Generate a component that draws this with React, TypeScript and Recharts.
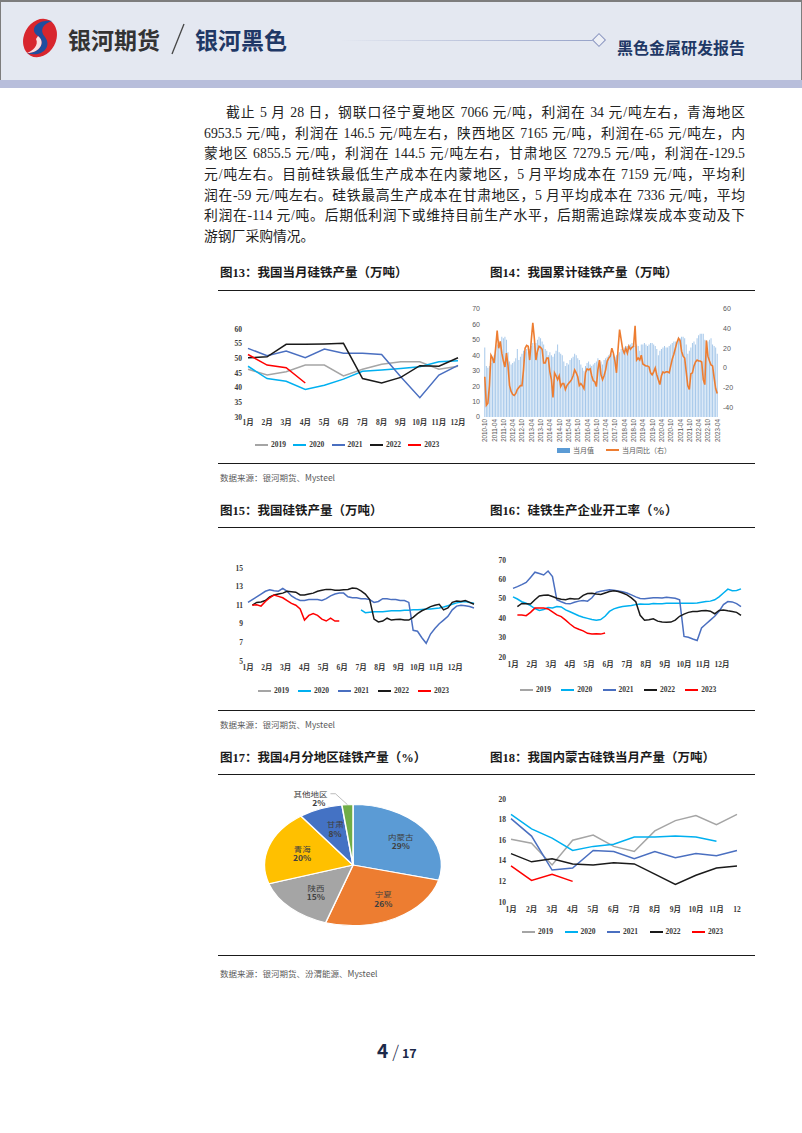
import React from 'react';
import { LineChart, Line, ComposedChart, Bar, XAxis, YAxis, PieChart, Pie, Cell } from 'recharts';

const SERIF = '"Liberation Serif", "Times New Roman", "Noto Sans CJK SC", serif';
const SANS = '"Liberation Sans", Arial, "Noto Sans CJK SC", sans-serif';
const CJK = '"Noto Sans CJK SC", "Liberation Sans", sans-serif';
const NAVY = '#1f3866';

const years = ['2019', '2020', '2021', '2022', '2023'];
const yearColors: Record<string, string> = {
  '2019': '#a5a5a5',
  '2020': '#00b0f0',
  '2021': '#4a6fc0',
  '2022': '#1a1a1a',
  '2023': '#ff0000',
};

const monthLabels = ['1月', '2月', '3月', '4月', '5月', '6月', '7月', '8月', '9月', '10月', '11月', '12月'];
const monthLabels18 = ['1月', '2月', '3月', '4月', '5月', '6月', '7月', '8月', '9月', '10月', '11月', '12'];

// 图13 当月硅铁产量
const fig13_2019 = [46.3, 44.3, 45.4, 47.7, 47.7, 44.0, 46.3, 48.0, 48.8, 48.8, 46.3, 47.3];
const fig13_2020 = [47.3, 43.1, 42.2, 39.4, 40.8, 42.9, 45.6, 46.0, 46.5, 47.1, 48.8, 49.2];
const fig13_2021 = [53.4, 50.9, 52.5, 50.2, 53.2, 51.7, 51.7, 51.3, 43.7, 36.6, 44.3, 47.6];
const fig13_2022 = [50.2, 50.5, 54.8, 54.8, 54.9, 55.1, 43.1, 41.6, 43.5, 47.5, 47.3, 50.2];
const fig13_2023 = [51.3, 47.7, 46.8, 41.6];

// 图14 累计硅铁产量: 当月值 / 当月同比, 2010-10 .. 2023-04
const fig14Value = [
  45, 33, 32,
  33, 35, 38, 40, 45, 47, 50, 49, 52, 51, 52, 50,
  42, 36, 34, 35, 36, 38, 44, 37, 39, 41, 43, 42,
  44, 42, 44, 46, 48, 46, 48, 50, 52, 51, 49, 47,
  44, 43, 40, 42, 40, 39, 41, 43, 47, 42, 41, 40,
  36, 33, 35, 34, 37, 38, 39, 41, 40, 38, 37, 34,
  32, 30, 33, 35, 36, 34, 33, 34, 35, 36, 38, 37,
  36, 34, 37, 38, 39, 40, 41, 41, 40, 39, 40, 41,
  42, 44, 43, 45, 46, 46, 47, 47, 48, 47, 46, 47,
  46, 43, 47, 47, 48, 47, 46, 47, 48, 48, 47, 46,
  44, 40, 43, 44, 45, 46, 45, 45, 46, 47, 48, 49,
  49, 48, 52, 51, 52, 52, 51, 47, 41, 43, 45, 48,
  49, 47, 51, 53, 54, 54, 54, 50, 45, 49, 50, 51,
  47, 46, 45, 41,
];
const fig14Yoy = [
  -9, -38, -36,
  -18, 13, 10, 5, 20, 38, 20, 27, 15, 7, 1, 15,
  2, -18, -24, -27, -28, -26, -22, -20, -18, -18, -2, 20,
  23, 22, 8, 28, 46, 30, 8, 17, 22, 21, 19, 5,
  5, 10, 10, -4, -12, -30, -5, -8, -12, -8, -19, -16,
  -16, -22, -18, -16, -14, -12, -8, -2, -5, -9, -18, -16,
  -18, -21, -5, -1, -2, -1, -8, -13, -14, -19, -2, 8,
  -7, -12, -8, -2, 7, 10, 12, 20, 15, 7, -5, 19,
  39, 29, 19, 15, 20, 15, 22, 19, 21, 22, 43, 8,
  10, 8, 13, 4, 3, 2, 2, 1, -5, -7, -4, 0,
  -7, -12, -17, -8, -4, -5, -4, -4, -5, 2, 9, 14,
  20, 26, 30, 28, 17, 12, 10, -4, -18, -22, -6, -5,
  2, 6, 8, 7, 7, 6, -12, -17, 28, 12, 7, 3,
  2, -10, -21, -26,
];
const fig14Months: string[] = [];
for (let i = 0; i < fig14Value.length; i++) {
  const t = 2010 * 12 + 9 + i;
  fig14Months.push(`${Math.floor(t / 12)}-${String((t % 12) + 1).padStart(2, '0')}`);
}

// 图15 硅铁周产量 (week 0..52)
const fig15_2019: (number | null)[] = [];
const fig15_2020 = [
  null, null, null, null, null, null, null, null, null, null, null, null, null,
  null, null, null, null, null, null, null, null, null, null, null, null, null,
  10.5, 10.2, 10.25, 10.3, 10.3, 10.3, 10.35, 10.4, 10.4, 10.4, 10.45, 10.45, 10.5,
  10.5, 10.55, 10.6, 10.6, 10.65, 10.7, 10.8, 10.95, 11.1, 11.25, 11.35, 11.4, 11.3, 11.2,
];
const fig15_2021 = [
  11.3, 11.6, 11.9, 12.2, 12.5, 12.65, 12.55, 12.5, 12.8, 12.5, 12.0, 11.7, 11.5,
  11.5, 11.6, 11.6, 11.6, 11.5, 11.7, 12.0, 12.2, 12.3, 12.3, 11.9, 11.8, 11.8,
  11.7, 11.7, 11.6, 11.3, 11.4, 11.7, 11.7, 11.6, 11.6, 11.5, 11.5, 11.3, 8.3,
  8.2, 7.5, 6.9, 7.9, 8.5, 9.0, 9.4, 9.8, 10.5, 10.9, 11.0, 10.95, 10.85, 10.7,
];
const fig15_2022 = [
  null, 11.0, 11.3, 11.35, 11.5, 11.9, 12.1, 12.2, 12.3, 12.5, 12.45, 12.4, 12.1,
  12.1, 12.2, 12.3, 12.5, 12.6, 12.7, 12.7, 12.6, 12.6, 12.65, 12.7, 12.85, 12.8,
  12.55, 12.2, 11.6, 9.5, 9.2, 9.3, 9.6, 9.4, 9.45, 9.5, 9.4, 9.4, 9.7,
  10.1, 10.4, 10.6, 10.85, 11.0, 11.1, 10.5, 10.7, 11.3, 11.45, 11.4, 11.5, 11.3, 11.1,
];
const fig15_2023 = [
  null, 11.0, 11.05, 10.9, 11.4, 11.8, 12.1, 11.95, 11.8, 11.5, 11.2, 11.0, 10.6,
  9.4, 9.9, 10.1, 9.9, 9.5, 9.3, 9.6, 9.3, 9.3,
];

// 图16 硅铁企业开工率 (week 0..52)
const fig16_2019: (number | null)[] = [];
const fig16_2020 = [
  51, 49.9, 48.5, 47.7, 46.5, 45, 44, 44.5, 45.5, 45.3, 46, 45.8, 44.3,
  43.3, 42.3, 41.3, 40.5, 39.9, 39.3, 39, 39.3, 41, 43.5, 44.8, 45.5, 46,
  46.3, 46.6, 47, 47.3, 47.2, 47.2, 47.6, 47.4, 47.5, 47.7, 47.7, 47.7, 47.7,
  47.7, 47.7, 47.7, 47.8, 48.2, 48.6, 48.8, 49.5, 51, 53, 55, 54.2, 54.3, 55.1,
];
const fig16_2021 = [
  55.4, 56.3, 57.3, 58.4, 61, 63.7, 63, 62.3, 64.3, 61.5, 49.5, 48.5, 47.6,
  47.4, 48.2, 48.8, 49.1, 48.8, 50.5, 53.3, 53.9, 54.3, 54.6, 54.4, 54, 53.6,
  53, 52, 51, 50.2, 50, 50.3, 50.6, 50.6, 50.4, 50.8, 50.6, 50.3, 49.5,
  30.6, 30.2, 29.3, 28.5, 35, 37, 39, 41, 43.5, 47, 48.6, 48.4, 47.5, 46,
];
const fig16_2022 = [
  null, 46, 47.6, 47.5, 47.3, 49.5, 51.5, 51.8, 52, 51.2, 50.3, 49.8, 49.5,
  50.1, 49.9, 50, 51.8, 52.7, 52.9, 52.5, 52.2, 53, 53.8, 54.1, 53.8, 53,
  52, 50.5, 48.5, 41.5, 39, 39.2, 39.7, 38.5, 38, 37.9, 38, 39, 41,
  42.1, 43, 43.5, 43.5, 43.8, 44, 43.6, 42.3, 44, 44.2, 43.8, 43.5, 43, 41.4,
];
const fig16_2023 = [
  null, 41.7, 41.7, 41.3, 43, 45.2, 45.2, 45.2, 44.8, 43.3, 41.7, 40.8, 39,
  37, 35.3, 34.3, 33.5, 32.2, 31.8, 32, 31.8, 32.4,
];

// 图17 4月分地区硅铁产量
const pieNames = ['内蒙古', '宁夏', '陕西', '青海', '甘肃', '其他地区'];
const pieValues = [29, 26, 15, 20, 8, 2];
const pieColors = ['#5b9bd5', '#ed7d31', '#a5a5a5', '#ffc000', '#4472c4', '#70ad47'];

// 图18 内蒙古硅铁当月产量
const fig18_2019 = [16.1, 15.7, 13.6, 16.0, 16.5, 15.4, 14.9, 16.9, 17.9, 18.4, 17.5, 18.5];
const fig18_2020 = [18.5, 17.1, 16.2, 15.0, 15.4, 15.6, 16.3, 16.3, 16.4, 16.3, 15.9];
const fig18_2021 = [18.1, 16.4, 13.1, 13.3, 15.0, 14.9, 14.2, 14.9, 14.3, 14.7, 14.5, 15.0];
const fig18_2022 = [14.7, 13.9, 14.2, 13.7, 13.6, 13.8, 13.7, 12.7, 11.7, 12.6, 13.3, 13.5];
const fig18_2023 = [13.5, 12.1, 12.7, 12.0];

const byYear = (labels: (string | number)[], key: string, series: Record<string, (number | null)[]>) =>
  labels.map((l, i) => {
    const row: Record<string, any> = { [key]: l };
    years.forEach((y) => {
      const v = series[y] ? series[y][i] : undefined;
      row[y] = v === undefined ? null : v;
    });
    return row;
  });

const weeks = fig16_2020.map((_, i) => i);
const monthTicks = monthLabels.map((_, i) => (i * 52) / 12);

const fig13Rows = byYear(monthLabels, 'm', { '2019': fig13_2019, '2020': fig13_2020, '2021': fig13_2021, '2022': fig13_2022, '2023': fig13_2023 });
const fig14Rows = fig14Months.map((month, i) => ({ month, value: fig14Value[i], yoy: fig14Yoy[i] }));
const fig15Rows = byYear(weeks, 'w', { '2019': fig15_2019, '2020': fig15_2020, '2021': fig15_2021, '2022': fig15_2022, '2023': fig15_2023 });
const fig16Rows = byYear(weeks, 'w', { '2019': fig16_2019, '2020': fig16_2020, '2021': fig16_2021, '2022': fig16_2022, '2023': fig16_2023 });
const fig18Rows = byYear(monthLabels18, 'm', { '2019': fig18_2019, '2020': fig18_2020, '2021': fig18_2021, '2022': fig18_2022, '2023': fig18_2023 });
const pieData = pieNames.map((name, i) => ({ name, value: pieValues[i] }));

const paragraph = [
  '截止 5 月 28 日，钢联口径宁夏地区 7066 元/吨，利润在 34 元/吨左右，青海地区',
  '6953.5 元/吨，利润在 146.5 元/吨左右，陕西地区 7165 元/吨，利润在-65 元/吨左，内',
  '蒙地区 6855.5 元/吨，利润在 144.5 元/吨左右，甘肃地区 7279.5 元/吨，利润在-129.5',
  '元/吨左右。目前硅铁最低生产成本在内蒙地区，5 月平均成本在 7159 元/吨，平均利',
  '润在-59 元/吨左右。硅铁最高生产成本在甘肃地区，5 月平均成本在 7336 元/吨，平均',
  '利润在-114 元/吨。后期低利润下或维持目前生产水平，后期需追踪煤炭成本变动及下',
  '游钢厂采购情况。',
];

const serifTick = { fontSize: 7.5, fill: '#3a3a3a', fontFamily: SERIF, fontWeight: 700 };
const sansTick = { fontSize: 7, fill: '#595959', fontFamily: SANS };

const yearLines = () =>
  years.map((y) => (
    <Line
      key={y}
      type="linear"
      dataKey={y}
      stroke={yearColors[y]}
      strokeWidth={1.5}
      dot={false}
      isAnimationActive={false}
    />
  ));

const YearLegend = ({ left, top, gap }: { left: number; top: number; gap: number }) => (
  <div style={{ position: 'absolute', left, top: top - 5, height: 10 }}>
    {years.map((y, i) => (
      <div key={y} style={{ position: 'absolute', left: i * gap, top: 0, height: 10, display: 'flex', alignItems: 'center', whiteSpace: 'nowrap' }}>
        <span style={{ display: 'inline-block', width: 13, height: 1.6, background: yearColors[y] }} />
        <span style={{ marginLeft: 3, fontFamily: SERIF, fontWeight: 700, fontSize: 7.5, color: '#3a3a3a', lineHeight: '10px' }}>{y}</span>
      </div>
    ))}
  </div>
);

const RotTick = (props: any) => {
  const { x, y, payload } = props;
  return (
    <text x={x} y={y} transform={`rotate(-90 ${x} ${y})`} textAnchor="end" dominantBaseline="central" fontSize={6.3} fill="#595959" fontFamily={SANS}>
      {payload.value}
    </text>
  );
};

const RADIAN = Math.PI / 180;
const PIE_SQUASH = 0.684;
const PIE_TEXT = 1.25;
const PIE_SIZE = 240;

const PieLabel = (props: any) => {
  const { cx, cy, midAngle, outerRadius, name, value } = props;
  const cos = Math.cos(-midAngle * RADIAN);
  const sin = Math.sin(-midAngle * RADIAN);
  if (name === '其他地区') {
    const r = outerRadius + 16;
    const ax = cx + r * cos;
    const ay = cy + r * sin;
    const ex = cx + outerRadius * cos;
    const ey = cy + outerRadius * sin;
    return (
      <g>
        <polyline points={`${ax - 16},${ay} ${ax - 11},${ay} ${ex},${ey}`} fill="none" stroke="#8c8c8c" strokeWidth={0.7} />
        <text transform={`translate(${ax - 19} ${ay}) scale(1 ${PIE_TEXT})`} textAnchor="end" dominantBaseline="central" fontSize={8.5} fill="#404040" fontFamily={CJK}>{name}</text>
        <text transform={`translate(${ax - 21} ${ay + 13}) scale(1 ${PIE_TEXT})`} textAnchor="end" dominantBaseline="central" fontSize={8.5} fontWeight={700} fill="#404040" fontFamily={CJK}>{`${value}%`}</text>
      </g>
    );
  }
  const r = outerRadius * 0.64;
  const x = cx + r * cos + 3;
  const y = cy + r * sin;
  return (
    <g>
      <text transform={`translate(${x} ${y - 7}) scale(1 ${PIE_TEXT})`} textAnchor="middle" dominantBaseline="central" fontSize={8.5} fill="#404040" fontFamily={CJK}>{name}</text>
      <text transform={`translate(${x} ${y + 7}) scale(1 ${PIE_TEXT})`} textAnchor="middle" dominantBaseline="central" fontSize={8.5} fontWeight={700} fill="#404040" fontFamily={CJK}>{`${value}%`}</text>
    </g>
  );
};

const Section = ({ titleL, titleR, titleY, topLine, bottomLine, sourceY, source }: any) => (
  <>
    <div style={{ position: 'absolute', left: 220, top: titleY - 9, fontFamily: SERIF, fontWeight: 700, fontSize: 12.5, lineHeight: '18px', color: '#1a1a1a', whiteSpace: 'nowrap' }}>{titleL}</div>
    <div style={{ position: 'absolute', left: 490, top: titleY - 9, fontFamily: SERIF, fontWeight: 700, fontSize: 12.5, lineHeight: '18px', color: '#1a1a1a', whiteSpace: 'nowrap' }}>{titleR}</div>
    <div style={{ position: 'absolute', left: 218, top: topLine, width: 537, height: 1.4, background: '#1a1a1a' }} />
    <div style={{ position: 'absolute', left: 218, top: bottomLine, width: 537, height: 1.4, background: '#1a1a1a' }} />
    <div style={{ position: 'absolute', left: 220, top: sourceY - 6, fontFamily: CJK, fontSize: 8.5, lineHeight: '12px', color: '#595959', whiteSpace: 'nowrap' }}>{source}</div>
  </>
);

const Header = () => (
  <>
    <div style={{ position: 'absolute', left: 0, top: 0, width: 802, height: 80, background: '#e4e8f1', borderTop: '2px solid #7d7d7d', borderLeft: '1px solid #7d7d7d', borderRight: '1px solid #7d7d7d', boxSizing: 'border-box' }} />
    <div style={{ position: 'absolute', left: 0, top: 80, width: 802, height: 8, background: '#b8bedb' }} />
    <svg width={42} height={44} viewBox="0 0 42 44" style={{ position: 'absolute', left: 19, top: 16 }}>
      <ellipse cx={21} cy={22} rx={16} ry={20} transform="rotate(28 21 22)" fill="#d8262e" />
      <path d="M33 5 C 19 3, 9 13, 19 20 C 27 26, 21 37, 8 37 C 21 42, 34 32, 26 21 C 20 14, 24 8, 33 5 Z" fill="#1f4e9e" />
      <path d="M19 20 C 27 26, 21 37, 8 37 C 14 35, 20 29, 17 23 Z" fill="#ffffff" opacity={0.85} />
    </svg>
    <div style={{ position: 'absolute', left: 68, top: 24, fontFamily: CJK, fontWeight: 700, fontSize: 23, lineHeight: '30px', color: '#333333', whiteSpace: 'nowrap' }}>银河期货</div>
    <svg width={20} height={34} style={{ position: 'absolute', left: 168, top: 22 }}>
      <line x1={16} y1={2} x2={4} y2={32} stroke="#444" strokeWidth={1.3} />
    </svg>
    <div style={{ position: 'absolute', left: 195, top: 24, fontFamily: CJK, fontWeight: 700, fontSize: 23, lineHeight: '30px', color: NAVY, whiteSpace: 'nowrap' }}>银河黑色</div>
    <div style={{ position: 'absolute', left: 340, top: 39.5, width: 253, height: 1.5, background: 'linear-gradient(to right, rgba(160,170,205,0), #97a3c9)' }} />
    <div style={{ position: 'absolute', left: 594, top: 35, width: 8, height: 8, border: '1px solid #8793bf', background: '#eef0f6', transform: 'rotate(45deg)' }} />
    <div style={{ position: 'absolute', left: 617, top: 36, fontFamily: CJK, fontWeight: 700, fontSize: 16, lineHeight: '22px', color: NAVY, whiteSpace: 'nowrap' }}>黑色金属研发报告</div>
  </>
);

export default function App() {
  return (
    <div style={{ position: 'absolute', left: 0, top: 0, width: 802, height: 1133, background: '#ffffff', overflow: 'hidden' }}>
      <Header />

      <div style={{ position: 'absolute', left: 204, top: 103, width: 541, fontFamily: SERIF, fontSize: 13.8, color: '#222' }}>
        {paragraph.map((line, i) => (
          <div
            key={i}
            style={{
              height: 20.7,
              lineHeight: '20.7px',
              paddingLeft: i === 0 ? 22 : 0,
              textAlign: 'justify',
              textAlignLast: i === paragraph.length - 1 ? 'left' : 'justify',
            } as React.CSSProperties}
          >
            {line}
          </div>
        ))}
      </div>

      <Section titleL="图13：我国当月硅铁产量（万吨）" titleR="图14：我国累计硅铁产量（万吨）" titleY={273} topLine={290} bottomLine={463} sourceY={477} source="数据来源：银河期货、Mysteel" />
      <Section titleL="图15：我国硅铁产量（万吨）" titleR="图16：硅铁生产企业开工率（%）" titleY={511} topLine={527} bottomLine={710} sourceY={724} source="数据来源：银河期货、Mysteel" />
      <Section titleL="图17：我国4月分地区硅铁产量（%）" titleR="图18：我国内蒙古硅铁当月产量（万吨）" titleY={758} topLine={774} bottomLine={955} sourceY={973} source="数据来源：银河期货、汾渭能源、Mysteel" />

      {/* 图13 */}
      <div style={{ position: 'absolute', left: 218, top: 319 }}>
        <LineChart width={252} height={114} data={fig13Rows} margin={{ top: 10, right: 12, bottom: 0, left: 0 }}>
          <XAxis dataKey="m" interval={0} axisLine={false} tickLine={false} tickSize={0} tickMargin={3} height={16} tick={serifTick} />
          <YAxis domain={[30, 60]} ticks={[30, 35, 40, 45, 50, 55, 60]} axisLine={false} tickLine={false} tickSize={0} tickMargin={6} width={30} tick={serifTick} />
          {yearLines()}
        </LineChart>
      </div>
      <YearLegend left={255} top={445} gap={38.3} />

      {/* 图14 */}
      <div style={{ position: 'absolute', left: 460, top: 299 }}>
        <ComposedChart width={282} height={143} data={fig14Rows} margin={{ top: 10, right: 0, bottom: 0, left: 0 }} barCategoryGap="18%">
          <XAxis dataKey="month" interval={5} axisLine={false} tickLine={false} tickSize={0} tickMargin={2} height={25} tick={RotTick} />
          <YAxis yAxisId="l" domain={[0, 70]} ticks={[0, 10, 20, 30, 40, 50, 60, 70]} axisLine={false} tickLine={false} tickSize={0} tickMargin={4} width={24} tick={sansTick} />
          <YAxis yAxisId="r" orientation="right" domain={[-50, 60]} ticks={[-50, -40, -30, -20, -10, 0, 10, 20, 30, 40, 50, 60]} axisLine={false} tickLine={false} tickSize={0} tickMargin={5} width={24} tick={sansTick} />
          <Bar yAxisId="l" dataKey="value" fill="#a6c8ea" isAnimationActive={false} />
          <Line yAxisId="r" type="linear" dataKey="yoy" stroke="#ed7d31" strokeWidth={1.6} dot={false} isAnimationActive={false} />
        </ComposedChart>
      </div>
      <div style={{ position: 'absolute', left: 557, top: 445, height: 10, display: 'flex', alignItems: 'center', whiteSpace: 'nowrap', fontFamily: CJK, fontSize: 7, color: '#595959' }}>
        <span style={{ display: 'inline-block', width: 13, height: 5, background: '#5b9bd5' }} />
        <span style={{ marginLeft: 3 }}>当月值</span>
        <span style={{ display: 'inline-block', width: 13, height: 2, background: '#ed7d31', marginLeft: 12 }} />
        <span style={{ marginLeft: 3 }}>当月同比（右）</span>
      </div>

      {/* 图15 */}
      <div style={{ position: 'absolute', left: 218, top: 558 }}>
        <LineChart width={264} height={119} data={fig15Rows} margin={{ top: 10, right: 8, bottom: 0, left: 0 }}>
          <XAxis dataKey="w" type="number" domain={[0, 52]} ticks={monthTicks} interval={0} tickFormatter={(v: number) => monthLabels[monthTicks.indexOf(v)]} axisLine={false} tickLine={false} tickSize={0} tickMargin={4} height={16} tick={serifTick} />
          <YAxis domain={[5, 15]} ticks={[5, 7, 9, 11, 13, 15]} axisLine={false} tickLine={false} tickSize={0} tickMargin={5} width={30} tick={serifTick} />
          {yearLines()}
        </LineChart>
      </div>
      <YearLegend left={258} top={691} gap={40} />

      {/* 图16 */}
      <div style={{ position: 'absolute', left: 485, top: 550 }}>
        <LineChart width={264} height={123} data={fig16Rows} margin={{ top: 10, right: 8, bottom: 0, left: 0 }}>
          <XAxis dataKey="w" type="number" domain={[0, 52]} ticks={monthTicks} interval={0} tickFormatter={(v: number) => monthLabels[monthTicks.indexOf(v)]} axisLine={false} tickLine={false} tickSize={0} tickMargin={5} height={16} tick={serifTick} />
          <YAxis domain={[20, 70]} ticks={[20, 30, 40, 50, 60, 70]} axisLine={false} tickLine={false} tickSize={0} tickMargin={7} width={28} tick={serifTick} />
          {yearLines()}
        </LineChart>
      </div>
      <YearLegend left={520} top={690} gap={41.3} />

      {/* 图17 */}
      <div style={{ position: 'absolute', left: 353 - PIE_SIZE / 2, top: 865 - (PIE_SIZE / 2) * PIE_SQUASH, width: PIE_SIZE, height: PIE_SIZE, transform: `scaleY(${PIE_SQUASH})`, transformOrigin: '0 0' }}>
        <PieChart width={PIE_SIZE} height={PIE_SIZE} margin={{ top: 0, right: 0, bottom: 0, left: 0 }}>
          <Pie
            data={pieData}
            dataKey="value"
            nameKey="name"
            cx={PIE_SIZE / 2}
            cy={PIE_SIZE / 2}
            outerRadius={88.5}
            startAngle={90}
            endAngle={-270}
            stroke="#ffffff"
            strokeWidth={1.5}
            label={PieLabel}
            labelLine={false}
            isAnimationActive={false}
          >
            {pieData.map((d, i) => (
              <Cell key={d.name} fill={pieColors[i]} />
            ))}
          </Pie>
        </PieChart>
      </div>

      {/* 图18 */}
      <div style={{ position: 'absolute', left: 483, top: 789 }}>
        <LineChart width={266} height={129} data={fig18Rows} margin={{ top: 10, right: 12, bottom: 0, left: 0 }}>
          <XAxis dataKey="m" interval={0} axisLine={false} tickLine={false} tickSize={0} tickMargin={5} height={16} tick={serifTick} />
          <YAxis domain={[10, 20]} ticks={[10, 12, 14, 16, 18, 20]} axisLine={false} tickLine={false} tickSize={0} tickMargin={5} width={28} tick={serifTick} />
          {yearLines()}
        </LineChart>
      </div>
      <YearLegend left={522} top={932} gap={42.5} />

      <div style={{ position: 'absolute', left: 377, top: 1036, height: 24, display: 'flex', alignItems: 'baseline', whiteSpace: 'nowrap', fontFamily: CJK, color: '#1c2a4a' }}>
        <span style={{ fontSize: 19, fontWeight: 700 }}>4</span>
        <span style={{ fontSize: 17, fontWeight: 300, margin: '0 3px 0 4px' }}>/</span>
        <span style={{ fontSize: 12.5, fontWeight: 700 }}>17</span>
      </div>
    </div>
  );
}
